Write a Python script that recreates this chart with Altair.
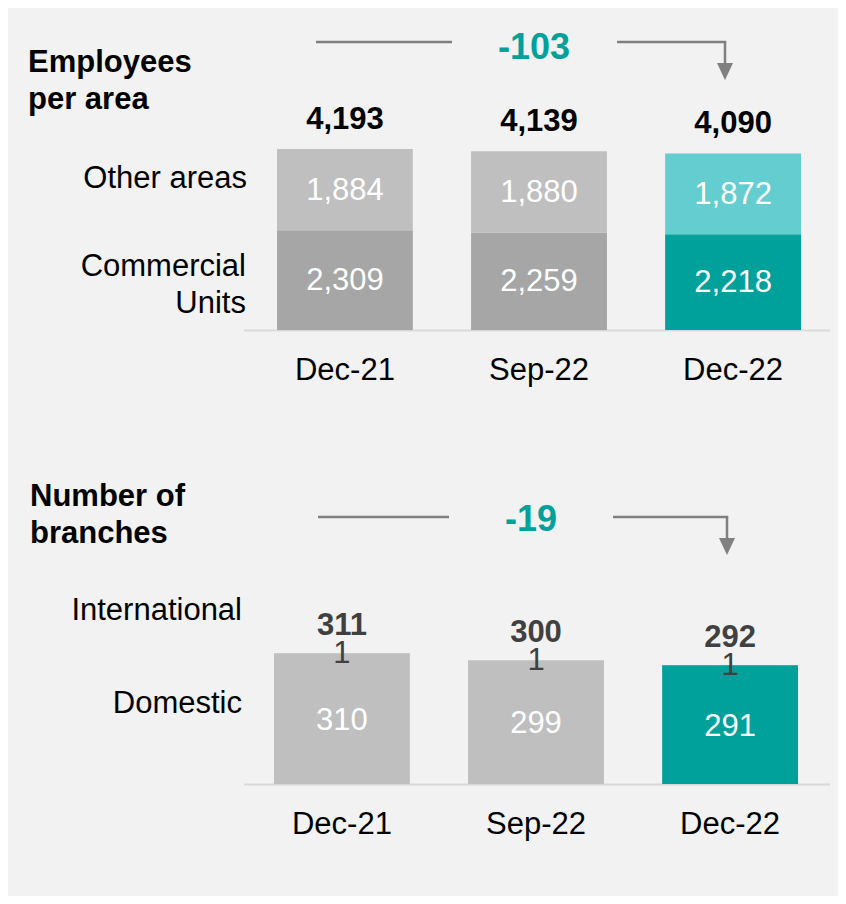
import altair as alt
import pandas as pd

# ---------------- data ----------------
periods = ["Dec-21", "Sep-22", "Dec-22"]
commercial_units = [2309, 2259, 2218]
other_areas = [1884, 1880, 1872]
employees_total = [4193, 4139, 4090]
domestic = [310, 299, 291]
international = [1, 1, 1]
branches_total = [311, 300, 292]

commercial_colors = ["#a6a6a6", "#a6a6a6", "#00a19a"]
other_colors = ["#bfbfbf", "#bfbfbf", "#63cdcf"]
domestic_colors = ["#bfbfbf", "#bfbfbf", "#00a19a"]
international_colors = ["#bfbfbf", "#bfbfbf", "#00a19a"]

TEAL = "#00a19a"
LINE = "#808080"
FONT = "Liberation Sans"

# ---------------- tables ----------------
emp_rows = []
for i, p in enumerate(periods):
    c, o = commercial_units[i], other_areas[i]
    emp_rows.append(dict(period=p, seg="Commercial Units", start=0, end=c, mid=c / 2, value=c, color=commercial_colors[i]))
    emp_rows.append(dict(period=p, seg="Other areas", start=c, end=c + o, mid=c + o / 2, value=o, color=other_colors[i]))
emp_df = pd.DataFrame(emp_rows)
emp_tot = pd.DataFrame(dict(period=periods, total=employees_total))

br_rows = []
for i, p in enumerate(periods):
    d, n = domestic[i], international[i]
    br_rows.append(dict(period=p, seg="Domestic", start=0, end=d, mid=d / 2, value=d, color=domestic_colors[i]))
    br_rows.append(dict(period=p, seg="International", start=d, end=d + n, mid=d + n / 2, value=n, color=international_colors[i]))
br_df = pd.DataFrame(br_rows)
br_dom = br_df[br_df.seg == "Domestic"].copy()
br_dom["mid"] = (br_dom["end"] + 104) / 2
br_int = br_df[br_df.seg == "International"]
br_tot = pd.DataFrame(dict(period=periods, total=branches_total))

one = pd.DataFrame({"k": [0]})

# ---------------- scales ----------------
x_top = alt.Scale(domain=periods, range=[269, 793], paddingInner=0.3, paddingOuter=0)
y_top = alt.Scale(domain=[0, 4193], range=[322, 141], nice=False, zero=False)
x_bot = alt.Scale(domain=periods, range=[266, 790], paddingInner=0.3, paddingOuter=0)
y_bot = alt.Scale(domain=[104, 311], range=[776, 645], nice=False, zero=False, clamp=True)


def txt(text, x, y, size=31, weight="normal", color="#000000", align="left", line_height=37):
    return alt.Chart(pd.DataFrame({"t": [text]})).mark_text(
        align=align, baseline="alphabetic", font=FONT, fontSize=size, fontWeight=weight,
        color=color, lineBreak="\n", lineHeight=line_height,
    ).encode(x=alt.value(x), y=alt.value(y), text="t:N")


def hline(x1, x2, y, color=LINE, w=2.5):
    return alt.Chart(one).mark_rule(color=color, strokeWidth=w, strokeCap="butt").encode(
        x=alt.value(x1), x2=alt.value(x2), y=alt.value(y))


def vline(x, y1, y2, color=LINE, w=2.5):
    return alt.Chart(one).mark_rule(color=color, strokeWidth=w, strokeCap="butt").encode(
        x=alt.value(x), y=alt.value(y1), y2=alt.value(y2))


def head(x, y):
    return alt.Chart(one).mark_point(shape="M-1,-1.05L1,-1.05L0,1.05Z", filled=True, size=256,
                                     color=LINE, opacity=1, strokeWidth=0).encode(
        x=alt.value(x), y=alt.value(y))


# ---------------- top panel ----------------
tx = alt.X("period:N", scale=x_top, axis=None)
top_bars = alt.Chart(emp_df).mark_bar().encode(
    x=tx, y=alt.Y("end:Q", scale=y_top, axis=None), y2="start:Q",
    color=alt.Color("color:N", scale=None))
top_vals = alt.Chart(emp_df).mark_text(font=FONT, fontSize=31, color="white", baseline="middle", dy=1).encode(
    x=tx, y=alt.Y("mid:Q", scale=y_top, axis=None), text=alt.Text("value:Q", format=","))
top_tot = alt.Chart(emp_tot).mark_text(font=FONT, fontSize=31, fontWeight="bold", color="#000000",
                                       baseline="alphabetic", dy=-20).encode(
    x=tx, y=alt.Y("total:Q", scale=y_top, axis=None), text=alt.Text("total:Q", format=","))
top_cats = alt.Chart(emp_tot).mark_text(font=FONT, fontSize=31, color="#000000", baseline="alphabetic").encode(
    x=tx, y=alt.value(372), text="period:N")
top_delta = alt.Chart(pd.DataFrame({"d": [str(employees_total[-1] - employees_total[0])]})).mark_text(
    font=FONT, fontSize=36, fontWeight="bold", color=TEAL, baseline="alphabetic", align="center").encode(
    x=alt.value(526), y=alt.value(51), text="d:N")

top = alt.layer(
    hline(236, 822, 322.5, color="#d9d9d9", w=2),
    top_bars, top_vals, top_tot, top_cats,
    txt("Employees\nper area", 20, 64, weight="bold"),
    txt("Other areas", 239, 180, align="right"),
    txt("Commercial\nUnits", 238, 268, align="right"),
    hline(308, 444, 34), hline(609, 718.25, 34), vline(717, 34, 57), head(717, 63.5),
    top_delta,
)

# ---------------- bottom panel ----------------
bx = alt.X("period:N", scale=x_bot, axis=None)
bot_bars = alt.Chart(br_df).mark_bar().encode(
    x=bx, y=alt.Y("end:Q", scale=y_bot, axis=None), y2="start:Q",
    color=alt.Color("color:N", scale=None))
bot_vals = alt.Chart(br_dom).mark_text(font=FONT, fontSize=31, color="white", baseline="middle", dy=2).encode(
    x=bx, y=alt.Y("mid:Q", scale=y_bot, axis=None), text=alt.Text("value:Q", format=","))
bot_int = alt.Chart(br_int).mark_text(font=FONT, fontSize=31, color="#404040", baseline="middle", dy=1).encode(
    x=bx, y=alt.Y("mid:Q", scale=y_bot, axis=None), text=alt.Text("value:Q", format=","))
bot_tot = alt.Chart(br_tot).mark_text(font=FONT, fontSize=31, fontWeight="bold", color="#404040",
                                      baseline="alphabetic", dy=-18).encode(
    x=bx, y=alt.Y("total:Q", scale=y_bot, axis=None), text=alt.Text("total:Q", format=","))
bot_cats = alt.Chart(br_tot).mark_text(font=FONT, fontSize=31, color="#000000", baseline="alphabetic").encode(
    x=bx, y=alt.value(826), text="period:N")
bot_delta = alt.Chart(pd.DataFrame({"d": [str(branches_total[-1] - branches_total[0])]})).mark_text(
    font=FONT, fontSize=36, fontWeight="bold", color=TEAL, baseline="alphabetic", align="center").encode(
    x=alt.value(523), y=alt.value(523), text="d:N")

bottom = alt.layer(
    hline(236, 822, 776.5, color="#d9d9d9", w=2),
    bot_bars, bot_vals, bot_int, bot_tot, bot_cats,
    txt("Number of\nbranches", 22, 498, weight="bold"),
    txt("International", 234, 612, align="right"),
    txt("Domestic", 234, 705, align="right"),
    hline(310, 441, 509), hline(605, 720.25, 509), vline(719, 509, 531), head(719, 538.5),
    bot_delta,
)

chart = alt.layer(top, bottom).resolve_scale(x="independent", y="independent").properties(
    width=830, height=888, background="#f2f2f2", padding=0,
    autosize=alt.AutoSizeParams(type="none"),
).configure_view(stroke=None)

chart.save("out.html", embed_options={"renderer": "svg", "actions": False})
